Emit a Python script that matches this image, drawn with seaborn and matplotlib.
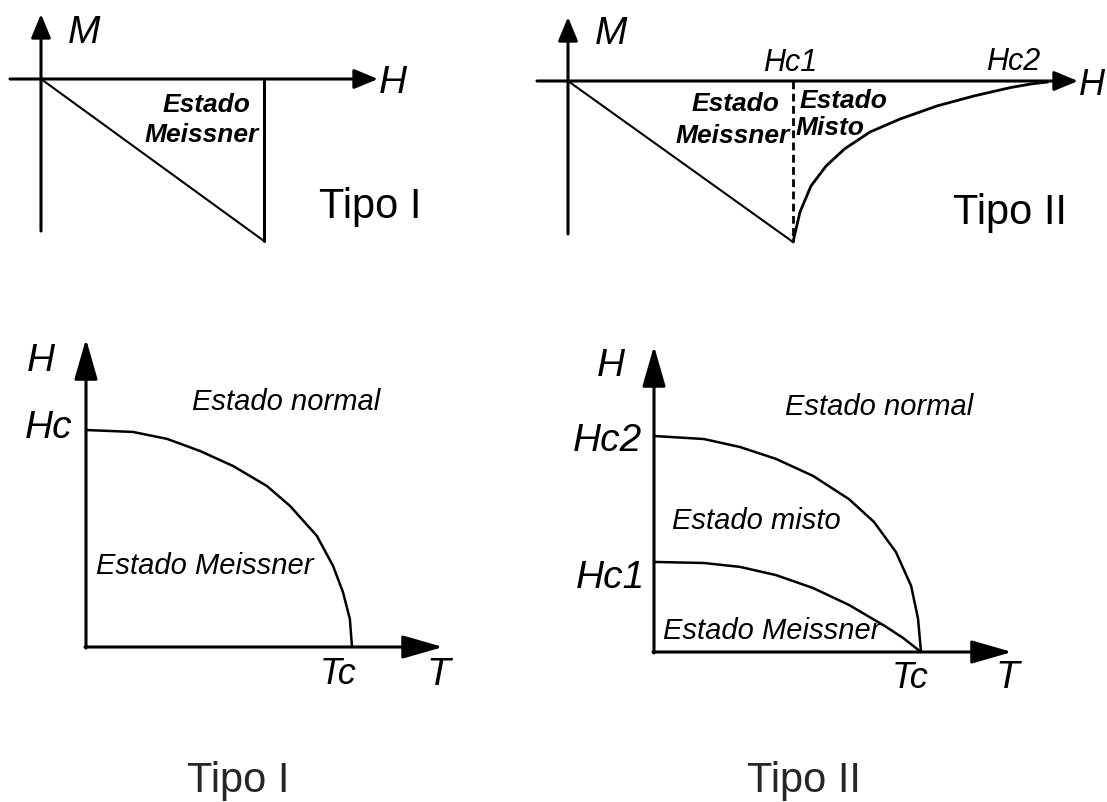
import matplotlib
matplotlib.use('Agg')
import matplotlib.pyplot as plt
import seaborn as sns

# curvas de magnetização (M x H), unidades: Hc (ou Hc1) = 1
H_tipo1 = [0.0, 1.0]
M_tipo1 = [0.0, -1.0]

H_tipo2 = [0.0, 1.0]
M_tipo2 = [0.0, -1.0]
H_misto = [1.0, 1.031, 1.08, 1.147, 1.229, 1.342, 1.476, 1.64, 1.804, 1.969, 2.06, 2.133]
M_misto = [-1.0, -0.814, -0.652, -0.528, -0.422, -0.317, -0.236, -0.155, -0.093, -0.04, -0.018, -0.006]

# diagramas de fase (H x T), unidades: Tc = 1, Hc (ou Hc2) = 1
T_hc = [0.0, 0.177, 0.305, 0.429, 0.553, 0.68, 0.767, 0.868, 0.929, 0.966, 0.992, 1.0]
Hc = [1.0, 0.991, 0.959, 0.903, 0.834, 0.742, 0.65, 0.512, 0.373, 0.253, 0.129, 0.0]

T_hc2 = [0.0, 0.187, 0.322, 0.457, 0.596, 0.73, 0.824, 0.906, 0.963, 0.989, 1.0]
Hc2 = [1.0, 0.986, 0.949, 0.894, 0.815, 0.708, 0.602, 0.463, 0.306, 0.153, 0.0]
T_hc1 = [0.0, 0.187, 0.322, 0.457, 0.596, 0.73, 0.865, 0.933, 1.0]
Hc1 = [0.417, 0.412, 0.394, 0.356, 0.296, 0.218, 0.12, 0.065, 0.0]

sns.set_style('white')
plt.rcParams['font.family'] = ['Liberation Sans', 'DejaVu Sans']

W, Hpx = 1107, 803
fig = plt.figure(figsize=(W / 100, Hpx / 100), dpi=100)


def painel(ox, oy, sx, sy, box):
    # cria um eixo posicionado em pixels, com origem (ox, oy) e escala sx, sy
    l, t, r, b = box
    ax = fig.add_axes([l / W, 1 - b / Hpx, (r - l) / W, (b - t) / Hpx])
    ax.set_xlim((l - ox) / sx, (r - ox) / sx)
    ax.set_ylim((oy - b) / sy, (oy - t) / sy)
    ax.axis('off')

    def px(x, y):
        return ((x - ox) / sx, (oy - y) / sy)
    return ax, px


def seta(ax, p0, p1, hl, hw, lw=2.2):
    ax.annotate('', xy=p1, xytext=p0,
                arrowprops=dict(arrowstyle='-|>,head_length=%s,head_width=%s' % (hl, hw),
                                lw=lw, color='black', shrinkA=0, shrinkB=0,
                                mutation_scale=10), annotation_clip=False)


def texto(ax, p, s, size, ha='center', style='italic', weight='normal'):
    ax.text(p[0], p[1], s, ha=ha, va='center', fontsize=size, style=style,
            weight=weight, color='black')


# ---- Tipo I : M x H
ax1, p1 = painel(41, 80, 223, 162, (0, 0, 450, 260))
seta(ax1, p1(41, 232), p1(41, 15), 1.45, 0.6)
seta(ax1, p1(10, 80), p1(378, 80), 1.45, 0.6)
sns.lineplot(x=H_tipo1, y=M_tipo1, ax=ax1, color='black', lw=1.5,
             estimator=None, sort=False)
ax1.plot([H_tipo1[-1], H_tipo1[-1]], [M_tipo1[-1], 0], color='black', lw=2.2)
texto(ax1, p1(84, 33), 'M', 28)
texto(ax1, p1(393, 83), 'H', 28)
texto(ax1, p1(250, 105), 'Estado', 19, ha='right', weight='bold')
texto(ax1, p1(259, 135), 'Meissner', 19, ha='right', weight='bold')
texto(ax1, p1(370, 207), 'Tipo I', 30, style='normal')

# ---- Tipo II : M x H
ax2, p2 = painel(568, 82, 225, 161, (530, 0, 1107, 260))
seta(ax2, p2(568, 235), p2(568, 18), 1.45, 0.6)
seta(ax2, p2(537, 82), p2(1078, 82), 1.45, 0.6)
sns.lineplot(x=H_tipo2, y=M_tipo2, ax=ax2, color='black', lw=1.5,
             estimator=None, sort=False)
sns.lineplot(x=H_misto, y=M_misto, ax=ax2, color='black', lw=2.0,
             estimator=None, sort=False)
ax2.plot([H_tipo2[-1], H_tipo2[-1]], [0, M_tipo2[-1]], color='black', lw=2.0,
         ls=(0, (2.8, 1.6)))
texto(ax2, p2(611, 34), 'M', 28)
texto(ax2, p2(1092, 86), 'H', 26)
texto(ax2, p2(790, 63), 'Hc1', 22)
texto(ax2, p2(1013, 62), 'Hc2', 22)
texto(ax2, p2(779, 104), 'Estado', 19, ha='right', weight='bold')
texto(ax2, p2(790, 136), 'Meissner', 19, ha='right', weight='bold')
texto(ax2, p2(800, 101), 'Estado', 19, ha='left', weight='bold')
texto(ax2, p2(796, 128), 'Misto', 19, ha='left', weight='bold')
texto(ax2, p2(1010, 213), 'Tipo II', 30, style='normal')

# ---- Tipo I : H x T
ax3, p3 = painel(86, 648, 266, 217, (0, 320, 480, 700))
seta(ax3, p3(86, 649), p3(86, 340), 2.5, 0.72)
seta(ax3, p3(85, 648), p3(443, 648), 2.5, 0.72)
sns.lineplot(x=T_hc, y=Hc, ax=ax3, color='black', lw=1.8,
             estimator=None, sort=False)
texto(ax3, p3(41, 361), 'H', 28)
texto(ax3, p3(49, 428), 'Hc', 28)
texto(ax3, p3(338, 675), 'Tc', 26)
texto(ax3, p3(438, 675), 'T', 28)
texto(ax3, p3(286, 402), 'Estado normal', 21)
texto(ax3, p3(205, 566), 'Estado Meissner', 21)

# ---- Tipo II : H x T
ax4, p4 = painel(654, 653, 267, 216, (540, 320, 1107, 700))
seta(ax4, p4(654, 654), p4(654, 347), 2.5, 0.72)
seta(ax4, p4(653, 653), p4(1012, 653), 2.5, 0.72)
sns.lineplot(x=T_hc2, y=Hc2, ax=ax4, color='black', lw=1.8,
             estimator=None, sort=False)
sns.lineplot(x=T_hc1, y=Hc1, ax=ax4, color='black', lw=1.8,
             estimator=None, sort=False)
texto(ax4, p4(611, 366), 'H', 28)
texto(ax4, p4(607, 441), 'Hc2', 28)
texto(ax4, p4(610, 578), 'Hc1', 28)
texto(ax4, p4(910, 678), 'Tc', 26)
texto(ax4, p4(1007, 678), 'T', 28)
texto(ax4, p4(879, 407), 'Estado normal', 21)
texto(ax4, p4(756, 521), 'Estado misto', 21)
texto(ax4, p4(772, 631), 'Estado Meissner', 21)

# títulos de baixo
fig.text(238 / W, 1 - 781 / Hpx, 'Tipo I', ha='center', va='center', fontsize=30)
fig.text(804 / W, 1 - 781 / Hpx, 'Tipo II', ha='center', va='center', fontsize=30)

fig.savefig('out.png', dpi=100, facecolor='white')
